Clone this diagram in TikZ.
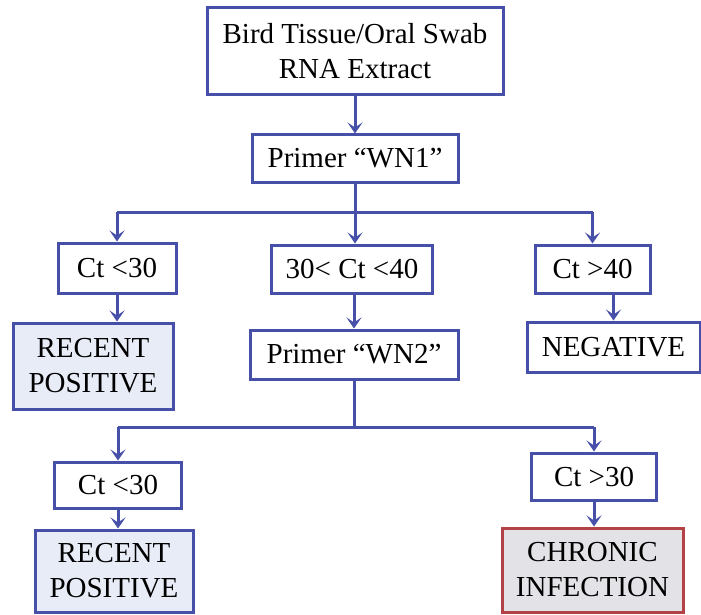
\documentclass[tikz,border=0pt]{standalone}
\usepackage{fontspec}
\setmainfont{Liberation Serif}
\usetikzlibrary{positioning,calc,arrows.meta}

\definecolor{flowblue}{RGB}{70,80,168}
\definecolor{resfill}{RGB}{232,236,247}
\definecolor{chronred}{RGB}{178,66,70}
\definecolor{chronfill}{RGB}{226,226,231}

\tikzset{
  box/.style={draw=flowblue, line width=3pt, fill=white, align=center,
    inner sep=0pt, font=\rmfamily\fontsize{29}{35}\selectfont},
  size/.style 2 args={minimum width=#1pt, minimum height=#2pt},
  result/.style={box, fill=resfill},
  chronic/.style={box, draw=chronred, fill=chronfill},
  link/.style={draw=flowblue, line width=3pt},
  flow/.style={link, -{Stealth[length=11pt,width=15pt,inset=5pt]}},
}

\begin{document}
\begin{tikzpicture}[x=1pt,y=-1pt]
    \useasboundingbox (0,0) rectangle (701,615);

    % sample and first primer
    \node[box, size={296}{87}] (sample) at (355,51.5) {Bird Tissue/Oral Swab\\RNA Extract};
    \node[box, size={206}{47}] (wn1) at (355,158.5) {Primer “WN1”};
    \draw[flow] (sample) -- (wn1);

    % WN1 outcomes
    \node[box, size={118}{50}] (lowA) at (117,268) {Ct <30};
    \node[box, size={161}{48}] (midA) at (352,269) {30< Ct <40};
    \node[box, size={115}{48}] (highA) at (592.5,269) {Ct >40};
    \coordinate (splitA) at (355,212);

    \draw[link] (wn1.south) -- (splitA);
    \draw[link] (splitA -| lowA) -- (splitA -| highA);
    \draw[flow] (splitA -| lowA) -- (lowA.north);
    \draw[flow] (splitA) -- (splitA |- midA.north);
    \draw[flow] (splitA -| highA) -- (highA.north);

    \node[result, size={160}{86}] (recA) at (93,366) {RECENT\\POSITIVE};
    \node[box, size={208}{49}] (wn2) at (354,354.5) {Primer “WN2”};
    \node[box, size={173}{50}] (neg) at (613.5,347) {NEGATIVE};

    \draw[flow] (lowA.south) -- (lowA.south |- recA.north);
    \draw[flow] (midA.south -| wn2) -- (wn2.north);
    \draw[flow] (highA.south -| neg) -- (neg.north);

    % WN2 outcomes
    \node[box, size={127}{46}] (lowB) at (118,485) {Ct <30};
    \node[box, size={125}{47}] (highB) at (594,476.5) {Ct >30};
    \coordinate (splitB) at (354,427);

    \draw[link] (wn2.south) -- (splitB);
    \draw[link] (splitB -| lowB) -- (splitB -| highB);
    \draw[flow] (splitB -| lowB) -- (lowB.north);
    \draw[flow] (splitB -| highB) -- (highB.north);

    \node[result, size={158}{82}] (recB) at (114,571) {RECENT\\POSITIVE};
    \node[chronic, size={181}{84}] (chron) at (592.5,570) {CHRONIC\\INFECTION};

    \draw[flow] (lowB.south) -- (lowB.south |- recB.north);
    \draw[flow] (highB.south) -- (highB.south |- chron.north);
\end{tikzpicture}
\end{document}
